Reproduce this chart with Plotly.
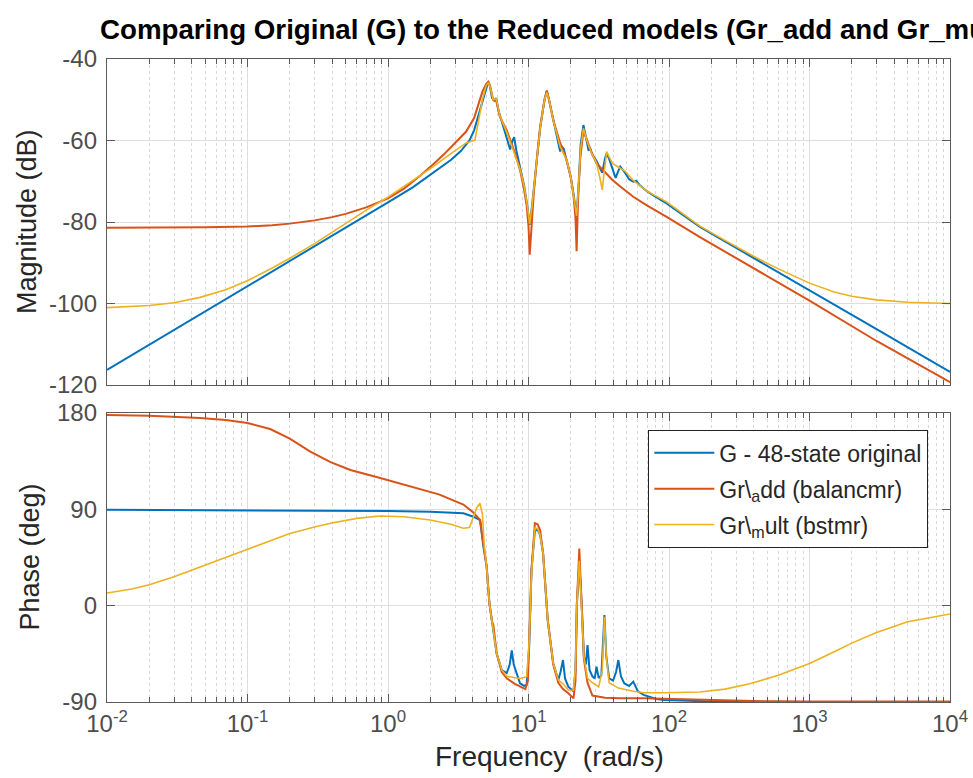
import plotly.graph_objects as go

# ---------------- data ----------------
# Magnitude (dB)
G_mag_w = [0.01, 0.1, 0.5, 1, 1.5, 2.1, 2.8, 3.3, 3.8, 4.1, 4.5, 4.8, 5.05, 5.17, 5.3, 5.5, 5.7, 5.9, 6.1, 6.5, 7.0,
           7.4, 7.7, 7.9, 8.2, 8.7, 9.3, 9.8, 10.2, 10.6, 11.2, 12.1, 13.0, 13.5, 14.0, 15.0, 16.0, 16.8, 17.3,
           17.8, 18.7, 20.0, 20.9, 22.0, 22.8, 23.5, 24.6, 25.3, 26, 26.8, 27.5, 28.5, 30.5, 32, 33.5, 35, 36,
           37.5, 39.6, 41.7, 43.5, 45, 48.6, 52, 55.7, 58.5, 62, 70, 80, 95.6, 166, 300, 1000, 3000, 10000]
G_mag = [-116.3, -95.8, -81.5, -75.2, -71.5, -68.0, -64.8, -62.6, -60.0, -57.5, -52.5, -49.0, -46.3, -45.6, -46.5,
         -49.5, -50.2, -49.6, -52.5, -55.5, -59.0, -62.2, -60.0, -59.2, -62.5, -66.5, -71.0, -76.0, -80.7, -76.0,
         -68.0, -57.0, -50.0, -47.8, -50.0, -55.0, -59.0, -62.7, -61.5, -62.0, -65.0, -69.0, -73.0, -78.7, -70.0,
         -61.0, -56.2, -58.0, -60.0, -62.5, -62.0, -63.5, -65.0, -66.4, -67.9, -64.5, -63.1, -64.5, -67.2, -69.2,
         -67.5, -66.4, -67.9, -69.5, -70.1, -69.9, -71.0, -72.5, -73.8, -75.4, -81.2, -86.3, -96.8, -106.3, -116.8]

Gadd_mag_w = [0.01, 0.02, 0.05, 0.1, 0.15, 0.2, 0.3, 0.4, 0.5, 0.7, 1, 1.3, 1.7, 2.1, 2.5, 3.0, 3.6, 4.1, 4.4, 4.7,
              5.0, 5.17, 5.35, 5.6, 5.9, 6.26, 7.0, 7.4, 8.0, 8.7, 9.3, 9.7, 10.0, 10.2, 10.5, 10.9, 11.5, 12.1,
              13.0, 13.5, 14.0, 15, 16.8, 18.7, 20.0, 20.9, 21.6, 22.0, 22.5, 23.3, 24.6, 26, 28, 30.5, 35, 39.6,
              45, 55.7, 70, 95.6, 166, 300, 1000, 3000, 10000]
Gadd_mag = [-81.4, -81.4, -81.3, -81.1, -80.8, -80.4, -79.6, -78.8, -78.0, -76.4, -74.2, -71.8, -68.6, -65.8, -63.4,
            -60.6, -57.8, -54.5, -51.0, -48.0, -46.1, -45.6, -46.8, -50.0, -50.3, -54.2, -57.5, -59.8, -63.0, -67.2,
            -72.0, -76.0, -81.0, -88.0, -80.0, -73.0, -64.0, -56.6, -50.0, -47.8, -50.0, -55.0, -60.6, -64.8, -69.0,
            -73.5, -79.0, -87.2, -75.0, -64.8, -57.5, -60.0, -62.8, -65.6, -67.7, -69.7, -71.3, -73.8, -76.0, -78.7,
            -83.7, -88.8, -99.3, -109.2, -119.3]

Gmult_mag_w = [0.01, 0.015, 0.02, 0.03, 0.046, 0.07, 0.1, 0.15, 0.2, 0.3, 0.5, 0.7, 1, 1.5, 2.1, 2.8, 3.6, 4.16,
               4.4, 4.7, 5.0, 5.17, 5.35, 5.6, 5.9, 6.26, 7.0, 7.4, 8.0, 8.7, 9.3, 9.8, 10.2, 10.6, 11.2, 12.1, 13.0,
               13.5, 14, 15, 16.8, 18.7, 20, 20.9, 22.0, 22.8, 23.5, 24.6, 26, 28, 30.5, 32.1, 33.5, 34.5, 36, 37.5,
               39.6, 45, 48.6, 55.7, 70, 95.6, 166, 250, 400, 600, 1000, 1500, 2000, 3000, 5000, 10000]
Gmult_mag = [-101.0, -100.8, -100.5, -99.8, -98.5, -96.6, -94.4, -91.3, -88.9, -85.3, -80.3, -77.1, -73.9, -69.8,
             -66.4, -63.2, -60.6, -59.9, -55.0, -50.0, -46.5, -45.8, -47.0, -50.0, -49.8, -54.0, -58.0, -60.5, -63.5,
             -67.0, -71.0, -76.0, -80.5, -76.0, -68.0, -57.0, -50.0, -48.2, -50.0, -55.0, -61.5, -64.8, -69.0, -73.0,
             -78.5, -70.0, -62.0, -57.0, -60.0, -63.0, -65.5, -68.9, -72.1, -68.0, -62.7, -64.0, -65.6, -66.8,
             -67.5, -69.8, -72.5, -75.0, -81.0, -84.5, -88.4, -91.5, -95.0, -97.2, -98.2, -99.1, -99.7, -100.0]

# Phase (deg)
G_ph_w = [0.01, 0.1, 1, 2, 3.44, 4.05, 4.52, 4.78, 5.04, 5.27, 5.62, 5.93, 6.45, 7.0, 7.35, 7.6, 7.85, 8.1, 8.7,
          9.3, 9.7, 10.1, 10.5, 11.1, 11.6, 12.1, 12.7, 13.7, 15, 16.3, 16.9, 17.6, 18.2, 19.2, 20.9, 21.6, 22.1,
          23.0, 23.9, 24.8, 25.6, 26.3, 27.2, 28.5, 29.6, 30.5, 31.6, 33, 34.7, 35.8, 37.5, 40, 42, 43.6, 45.5,
          48, 52, 55.7, 60, 66, 80, 91, 120, 200, 1000, 10000]
G_ph = [89.5, 89.3, 88.5, 87.8, 86.3, 83.1, 80.0, 55.0, 36.4, 2.2, -22.7, -44.5, -60.1, -63.0, -55.0, -41.9, -55.0,
        -60.0, -72.5, -75.0, -74.0, -40.0, 33.3, 70.0, 71.0, 66.0, 49.0, -13.4, -53.8, -69.5, -62.0, -50.8, -68.0,
        -75.7, -80.0, -60.0, 2.0, 40.0, 2.0, -47.7, -55.0, -36.8, -60.0, -66.0, -68.0, -57.0, -67.7, -65.0, -8.8,
        -47.7, -68.0, -70.0, -62.0, -50.8, -66.0, -72.5, -75.0, -71.0, -80.0, -83.3, -87.0, -88.1, -88.5, -89.5,
        -90.0, -90.0]

Gadd_ph_w = [0.01, 0.02, 0.046, 0.07, 0.1, 0.145, 0.2, 0.28, 0.39, 0.54, 0.88, 1.4, 2.3, 3.44, 4.05, 4.52, 4.78,
             5.04, 5.27, 5.5, 5.62, 5.93, 6.45, 7.0, 8.0, 8.7, 9.5, 9.9, 10.2, 10.5, 11.1, 11.6, 12.1, 12.7, 13.7,
             15, 16.3, 17.6, 19.2, 20.9, 21.6, 22.1, 23.0, 23.9, 24.8, 26.3, 28.5, 35, 45, 65.6, 91, 120, 200, 500,
             1000, 10000]
Gadd_ph = [178.2, 177.5, 175.3, 173.5, 170.7, 165.0, 156.0, 144.0, 134.0, 126.7, 119.3, 111.8, 104.0, 94.5, 87.0,
           80.0, 55.0, 36.0, 2.0, -15.0, -18.0, -44.5, -62.0, -67.9, -73.0, -75.7, -78.0, -70.0, -20.0, 33.0, 77.0,
           76.0, 70.7, 49.0, -13.4, -55.0, -72.0, -78.0, -81.9, -86.6, -70.0, 2.0, 53.4, 2.0, -50.0, -72.0, -84.0,
           -86.0, -86.5, -86.5, -87.0, -87.6, -88.5, -89.3, -89.5, -89.5]

Gmult_ph_w = [0.01, 0.015, 0.02, 0.03, 0.046, 0.07, 0.1, 0.14, 0.2, 0.3, 0.39, 0.6, 0.88, 1.3, 2.0, 2.8, 3.44, 3.8,
              4.05, 4.3, 4.52, 4.7, 4.85, 5.04, 5.27, 5.62, 5.93, 6.45, 7.0, 8.7, 9.7, 10.1, 10.5, 11.1, 11.6, 12.1,
              12.7, 13.7, 15, 16.3, 17.6, 19.2, 20.9, 21.6, 22.1, 23.0, 23.9, 24.8, 26.3, 28.5, 31.6, 33.5, 34.7,
              35.8, 37.5, 43.6, 55.7, 65.6, 91, 120, 166, 250, 376, 600, 1000, 1500, 2000, 3000, 5000, 10000]
Gmult_ph = [11.8, 15.5, 19.5, 27.0, 36.0, 45.0, 53.0, 60.5, 67.5, 73.5, 77.0, 81.5, 83.8, 83.0, 80.0, 76.0, 72.3,
            73.0, 83.0, 92.0, 95.6, 85.0, 55.0, 36.0, 2.0, -22.7, -44.5, -60.0, -66.0, -68.0, -66.4, -35.0, 30.0,
            72.3, 72.0, 66.0, 49.0, -13.4, -53.8, -69.5, -73.0, -78.8, -79.0, -58.0, 2.0, 42.0, 2.0, -47.7, -68.0,
            -72.0, -76.0, -60.0, -10.3, -47.7, -72.0, -77.0, -80.0, -81.3, -81.3, -81.3, -80.7, -78.0, -73.0, -65.0,
            -54.0, -43.0, -35.0, -25.0, -15.0, -7.8]

series_names = ["G - 48-state original", "Gr\\<sub>a</sub>dd (balancmr)", "Gr\\<sub>m</sub>ult (bstmr)"]
colors = ["#0072BD", "#D95319", "#EDB120"]
widths = [2, 2, 1.6]

mag_x = [G_mag_w, Gadd_mag_w, Gmult_mag_w]
mag_y = [G_mag, Gadd_mag, Gmult_mag]
ph_x = [G_ph_w, Gadd_ph_w, Gmult_ph_w]
ph_y = [G_ph, Gadd_ph, Gmult_ph]

x_tickvals = [0.01, 0.1, 1, 10, 100, 1000, 10000]
x_ticktext = ["10<sup>-2</sup>", "10<sup>-1</sup>", "10<sup>0</sup>", "10<sup>1</sup>",
              "10<sup>2</sup>", "10<sup>3</sup>", "10<sup>4</sup>"]
mag_ticks = [-120, -100, -80, -60, -40]
ph_ticks = [-90, 0, 90, 180]

# ---------------- figure ----------------
FONT = "Liberation Sans, Arial, Helvetica, sans-serif"
fig = go.Figure()
for i in range(3):
    fig.add_trace(go.Scatter(x=mag_x[i], y=mag_y[i], mode="lines", xaxis="x", yaxis="y",
                             line=dict(color=colors[i], width=widths[i]), showlegend=False,
                             name=series_names[i], legendgroup="g%d" % i))
for i in range(3):
    fig.add_trace(go.Scatter(x=ph_x[i], y=ph_y[i], mode="lines", xaxis="x2", yaxis="y2",
                             line=dict(color=colors[i], width=widths[i]), showlegend=True,
                             name=series_names[i], legendgroup="g%d" % i))

axcol = "#5a5a5a"
common_x = dict(type="log", range=[-2, 4], showline=True, linecolor=axcol, linewidth=1.3, mirror="ticks",
                ticks="inside", ticklen=8, tickcolor=axcol, tickwidth=1, automargin=False,
                tickmode="array", tickvals=x_tickvals, ticktext=x_ticktext,
                showgrid=True, gridcolor="#dedede", gridwidth=1, zeroline=False,
                minor=dict(dtick="D1", ticks="inside", ticklen=5, tickcolor=axcol, showgrid=True,
                           gridcolor="#d8d8d8", griddash="dot", gridwidth=1),
                tickfont=dict(family=FONT, size=24, color="#4d4d4d"))
common_y = dict(showline=True, linecolor=axcol, linewidth=1.3, mirror="ticks", ticks="inside", ticklen=8,
                tickcolor=axcol, showgrid=True, gridcolor="#dedede", gridwidth=1, zeroline=False,
                tickfont=dict(family=FONT, size=24, color="#4d4d4d"), tickmode="array",
                ticklabelstandoff=4, automargin=False)

fig.update_layout(
    width=973, height=778,
    margin=dict(l=107, r=23, t=59, b=76, autoexpand=False),
    plot_bgcolor="white", paper_bgcolor="white",
    font=dict(family=FONT),
    xaxis=dict(common_x, anchor="y", domain=[0, 1], showticklabels=False),
    yaxis=dict(common_y, domain=[0.493, 1], range=[-120, -40], tickvals=mag_ticks,
               ticktext=[str(v) for v in mag_ticks]),
    xaxis2=dict(common_x, anchor="y2", domain=[0, 1], matches="x"),
    yaxis2=dict(common_y, domain=[0, 0.4495], range=[-90, 180], tickvals=ph_ticks,
                ticktext=[str(v) for v in ph_ticks]),
    legend=dict(x=(928 - 107) / 843, y=(702 - 430) / 643, xanchor="right", yanchor="top", bgcolor="white",
                bordercolor="#222222", borderwidth=1.3, font=dict(family=FONT, size=23, color="#262626"),
                tracegroupgap=3, itemwidth=60),
    title=dict(text="<b>Comparing Original (G) to the Reduced models (Gr_add and Gr_mult)</b>",
               x=100 / 973, xanchor="left", xref="container", y=1 - 29 / 778, yanchor="middle",
               yref="container", font=dict(family=FONT, size=27.7, color="black")),
    annotations=[
        dict(text="Magnitude (dB)", xref="paper", yref="paper", x=(27 - 107) / 843, y=(702 - 222) / 643,
             textangle=-90, showarrow=False, xanchor="center", yanchor="middle",
             font=dict(family=FONT, size=27, color="#262626")),
        dict(text="Phase (deg)", xref="paper", yref="paper", x=(29 - 107) / 843, y=(702 - 557.5) / 643,
             textangle=-90, showarrow=False, xanchor="center", yanchor="middle",
             font=dict(family=FONT, size=27, color="#262626")),
        dict(text="Frequency\u00a0\u00a0(rad/s)", xref="paper", yref="paper", x=(549 - 107) / 843,
             y=(702 - 756) / 643, showarrow=False, xanchor="center", yanchor="middle",
             font=dict(family=FONT, size=28, color="#262626")),
    ],
)

fig.write_html("out.html", config={"displayModeBar": False},
               post_script="document.body.style.margin='0px';")
